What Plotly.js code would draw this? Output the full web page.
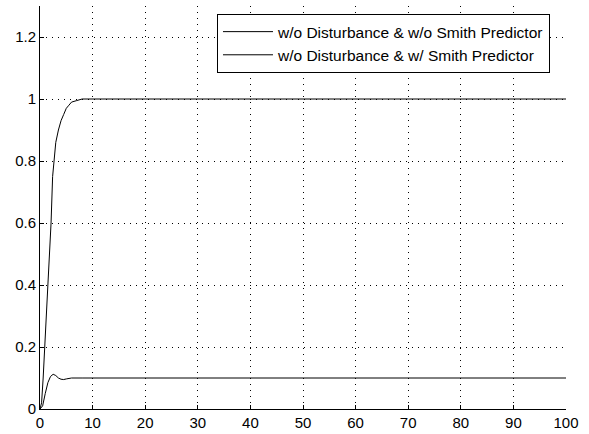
<!DOCTYPE html>
<html>
<head>
<meta charset="utf-8">
<script src="https://cdn.plot.ly/plotly-3.0.1.min.js"></script>
<style>html,body{margin:0;padding:0;background:#fff;}#chart{width:589px;height:434px;}</style>
</head>
<body>
<div id="chart"></div>
<script>
// Series 1: w/o Disturbance & w/o Smith Predictor (settles near 0.1)
var t1 = [0, 0.5, 1, 1.5, 2, 2.5, 3, 3.5, 4, 4.5, 5, 5.5, 6, 8, 20, 40, 60, 80, 100];
var y1 = [0, 0.01, 0.05, 0.085, 0.105, 0.112, 0.108, 0.1, 0.096, 0.095, 0.097, 0.099, 0.1, 0.1, 0.1, 0.1, 0.1, 0.1, 0.1];
// Series 2: w/o Disturbance & w/ Smith Predictor (settles at 1)
var t2 = [0, 0.3, 0.6, 0.9, 1.2, 1.5, 1.8, 2.1, 2.4, 2.7, 3, 3.5, 4, 4.5, 5, 5.5, 6, 7, 8, 20, 40, 60, 80, 100];
var y2 = [0, 0.02, 0.1, 0.22, 0.3, 0.4, 0.5, 0.6, 0.75, 0.82, 0.86, 0.9, 0.93, 0.95, 0.97, 0.98, 0.99, 0.995, 1, 1, 1, 1, 1, 1];
var names = ["w/o Disturbance & w/o Smith Predictor", "w/o Disturbance & w/ Smith Predictor"];
var xTicks = [0, 10, 20, 30, 40, 50, 60, 70, 80, 90, 100];
var yTicks = [0, 0.2, 0.4, 0.6, 0.8, 1, 1.2];
var yTickText = ["0", "0.2", "0.4", "0.6", "0.8", "1", "1.2"];

var data = [
  {x: t1, y: y1, name: names[0], mode: "lines", line: {color: "#000", width: 1}},
  {x: t2, y: y2, name: names[1], mode: "lines", line: {color: "#000", width: 1}}
];
var axisFont = {family: "Liberation Sans, Arial, sans-serif", size: 15, color: "#000"};
var layout = {
  width: 589, height: 434,
  margin: {l: 40, r: 23, t: 6, b: 25, pad: 0},
  paper_bgcolor: "#fff", plot_bgcolor: "#fff",
  font: axisFont,
  showlegend: true,
  legend: {
    x: 0.3365, y: 0.98, xanchor: "left", yanchor: "top",
    bgcolor: "#fff", bordercolor: "#000", borderwidth: 1,
    font: {family: "Liberation Sans, Arial, sans-serif", size: 15.5, color: "#000"},
    itemwidth: 50, tracegroupgap: 0
  },
  xaxis: {
    range: [0, 100], tickmode: "array", tickvals: xTicks,
    ticks: "inside", ticklen: 4, tickcolor: "#000",
    showline: true, linecolor: "#000", linewidth: 1, mirror: false,
    showgrid: true, gridcolor: "#000", griddash: "1px,5px", gridwidth: 1,
    zeroline: false, tickfont: axisFont, fixedrange: true
  },
  yaxis: {
    range: [0, 1.3], tickmode: "array", tickvals: yTicks, ticktext: yTickText,
    ticks: "inside", ticklen: 4, tickcolor: "#000",
    showline: true, linecolor: "#000", linewidth: 1, mirror: false,
    showgrid: true, gridcolor: "#000", griddash: "1px,5px", gridwidth: 1,
    zeroline: false, tickfont: axisFont, fixedrange: true
  }
};
Plotly.newPlot("chart", data, layout, {displayModeBar: false, staticPlot: true});
</script>
</body>
</html>
